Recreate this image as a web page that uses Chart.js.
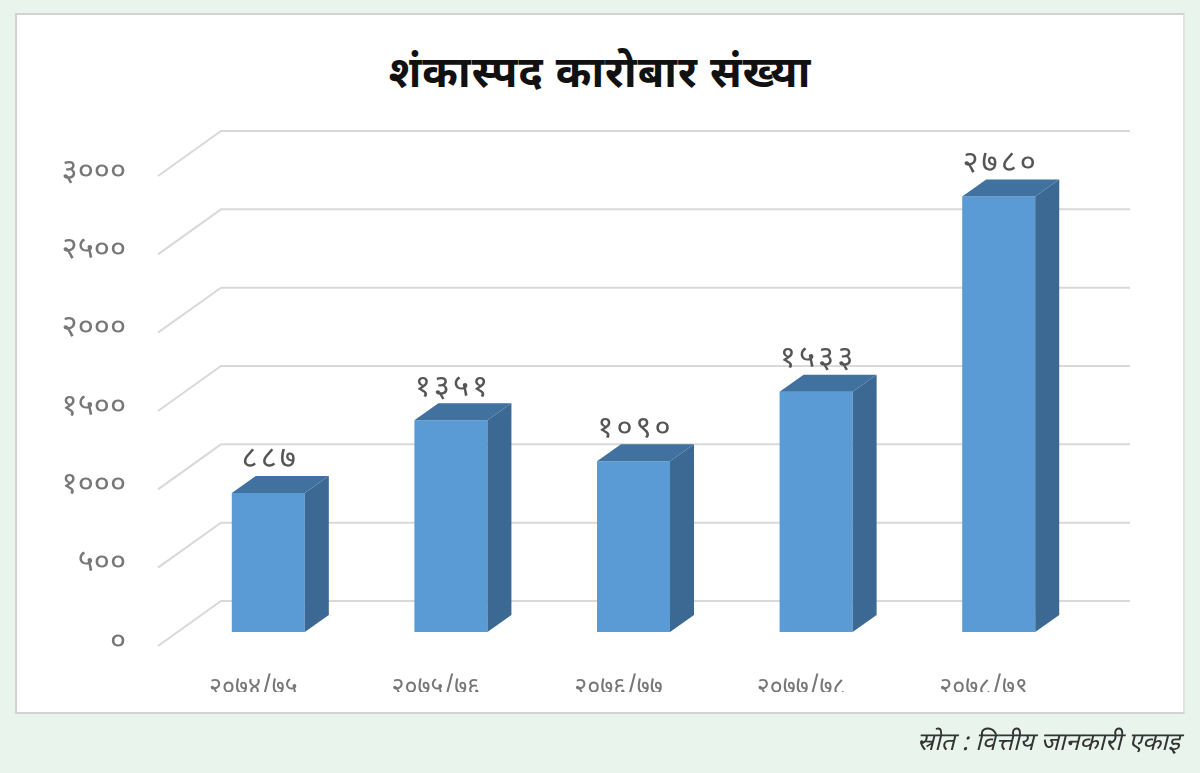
<!DOCTYPE html>
<html>
<head>
<meta charset="utf-8">
<script src="https://cdn.jsdelivr.net/npm/chart.js@4.4.0/dist/chart.umd.min.js"></script>
<style>
  html, body { margin: 0; padding: 0; }
  body { width: 1200px; height: 773px; background: #e9f4ed; position: relative; overflow: hidden;
         font-family: "Noto Sans Devanagari", "Lohit Devanagari", "Noto Sans", sans-serif; }
  #panel { position: absolute; left: 15px; top: 13px; width: 1166px; height: 697px;
           background: #fff; border: 2px solid #cfd3d1; border-right-color: #e0e4e2; }
  #title { position: absolute; left: 0; width: 1200px; top: 48px; text-align: center;
           font-size: 43px; font-weight: bold; color: #111; letter-spacing: 1px; }
  #source { position: absolute; right: 20px; top: 728px; font-size: 25px; font-style: italic; color: #333; }
  #wrap { position: absolute; left: 0; top: 0; width: 1200px; height: 773px; }
</style>
</head>
<body>
<div id="panel"></div>
<div id="title">शंकास्पद कारोबार संख्या</div>
<div id="wrap"><canvas id="chart"></canvas></div>
<div id="source">स्रोत : वित्तीय जानकारी एकाइ</div>
<script>
//fiscal years (Nepali digits)
const years = ['२०७४/७५', '२०७५/७६', '२०७६/७७', '२०७७/७८', '२०७८/७९'];
//number of suspicious transactions
const counts = [887, 1351, 1090, 1533, 2780];
//value labels as printed on the chart
const countLabels = ['८८७', '१३५१', '१०९०', '१५३३', '२७८०'];
//y axis tick values and their labels
const tickValues = [0, 500, 1000, 1500, 2000, 2500, 3000];
const tickLabels = ['०', '५००', '१०००', '१५००', '२०००', '२५००', '३०००'];

const fontFamily = '"Noto Sans Devanagari", "Lohit Devanagari", "Noto Sans", sans-serif';

//back wall grid lines, drawn behind the bars
const wallPlugin = {
    id: 'wall',
    beforeDatasetsDraw(chart) {
        const ctx = chart.ctx;
        const area = chart.chartArea;
        const y = chart.scales.y;
        ctx.save();
        ctx.strokeStyle = '#d9d9d9';
        ctx.lineWidth = 2;
        for (const v of tickValues) {
            const py = y.getPixelForValue(v);
            ctx.beginPath();
            ctx.moveTo(area.left - 19, py + 14);
            ctx.lineTo(area.left + 44, py - 31);
            ctx.lineTo(area.right + 40, py - 31);
            ctx.stroke();
        }
        ctx.restore();
    }
};

//side and top faces for the 3d look, plus the value labels
const boxPlugin = {
    id: 'box',
    afterDatasetsDraw(chart) {
        const ctx = chart.ctx;
        const meta = chart.getDatasetMeta(0);
        const dx = 24, dy = -17;
        ctx.save();
        meta.data.forEach((bar, i) => {
            const l = bar.x - bar.width / 2;
            const r = bar.x + bar.width / 2;
            //side
            ctx.fillStyle = '#3b6993';
            ctx.beginPath();
            ctx.moveTo(r, bar.y);
            ctx.lineTo(r + dx, bar.y + dy);
            ctx.lineTo(r + dx, bar.base + dy);
            ctx.lineTo(r, bar.base);
            ctx.closePath();
            ctx.fill();
            //top
            ctx.fillStyle = '#41719f';
            ctx.beginPath();
            ctx.moveTo(l, bar.y);
            ctx.lineTo(l + dx, bar.y + dy);
            ctx.lineTo(r + dx, bar.y + dy);
            ctx.lineTo(r, bar.y);
            ctx.closePath();
            ctx.fill();
            //label
            ctx.fillStyle = '#555';
            ctx.font = '31px ' + fontFamily;
            ctx.letterSpacing = '3px';
            ctx.textAlign = 'center';
            ctx.textBaseline = 'bottom';
            ctx.fillText(countLabels[i], bar.x + 2, bar.y - 15);
        });
        ctx.restore();
    }
};

new Chart(document.getElementById('chart'), {
    type: 'bar',
    data: {
        labels: years,
        datasets: [{
            data: counts,
            backgroundColor: '#5b9bd5',
            borderWidth: 0,
            barPercentage: 1,
            categoryPercentage: 0.4
        }]
    },
    options: {
        responsive: true,
        maintainAspectRatio: false,
        animation: false,
        layout: { padding: { top: 162, right: 110, bottom: 81, left: 0 } },
        plugins: { legend: { display: false }, tooltip: { enabled: false } },
        scales: {
            x: {
                grid: { display: false },
                border: { display: false },
                ticks: {
                    color: '#777',
                    font: { family: fontFamily, size: 25 },
                    padding: 35,
                    labelOffset: -15
                },
                afterFit(scale) { scale.height = 60; }
            },
            y: {
                min: 0,
                max: 3000,
                afterBuildTicks(scale) { scale.ticks = tickValues.map(v => ({ value: v })); },
                grid: { display: false },
                border: { display: false },
                ticks: {
                    color: '#777',
                    font: { family: fontFamily, size: 31 },
                    padding: 43,
                    labelOffset: 12,
                    callback: (value) => tickLabels[tickValues.indexOf(value)]
                },
                afterFit(scale) { scale.width = 177; }
            }
        }
    },
    plugins: [wallPlugin, boxPlugin]
});
</script>
</body>
</html>
